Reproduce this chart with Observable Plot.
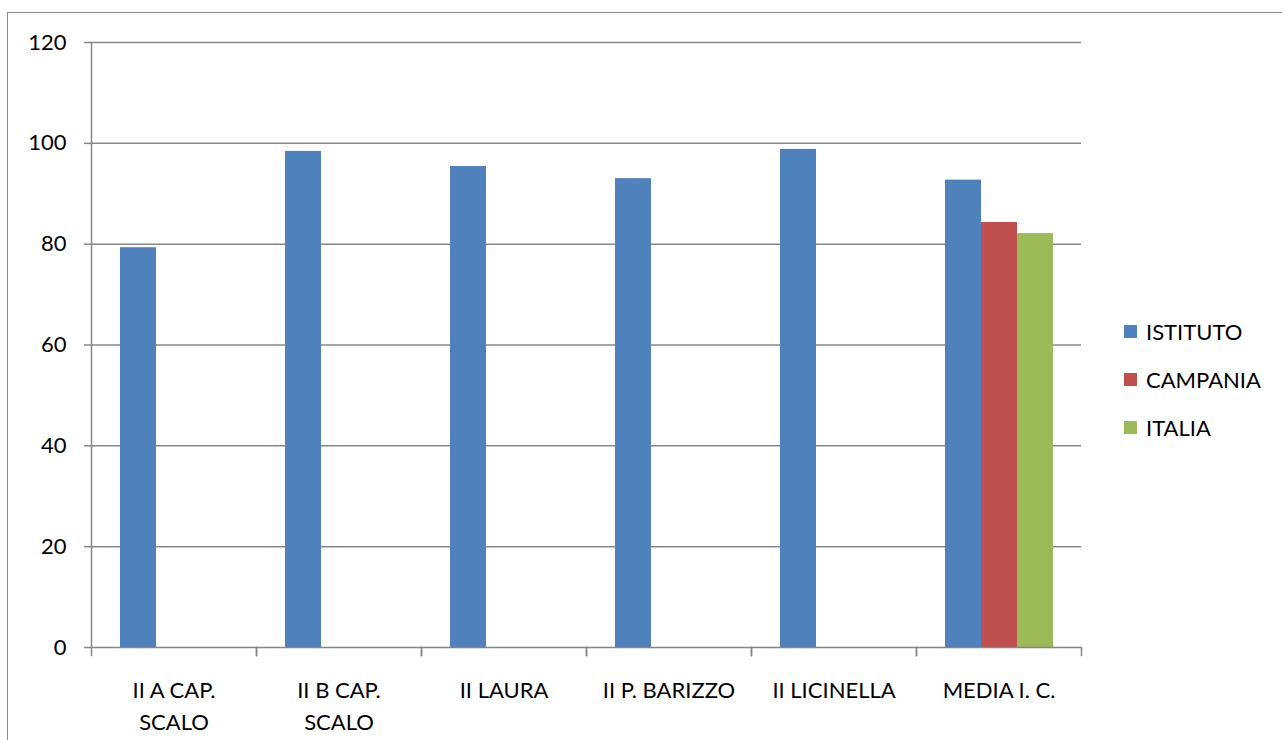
<!DOCTYPE html>
<html>
<head>
<meta charset="utf-8">
<script src="https://cdn.jsdelivr.net/npm/d3@7"></script>
<script src="https://cdn.jsdelivr.net/npm/@observablehq/plot@0.6"></script>
<style>
  html, body { margin: 0; padding: 0; background: #fff; }
  #wrap { position: relative; width: 1282px; height: 740px; overflow: hidden; font-family: Lato, "Open Sans", sans-serif; }
  #border { position: absolute; left: 7px; top: 12px; right: -10px; bottom: -10px; border-top: 1.5px solid #8a8a8a; border-left: 1.5px solid #8a8a8a; pointer-events: none; }
  #legend { position: absolute; left: 1124px; top: 307px; font-size: 22px; color: #000; }
  .item { display: flex; align-items: center; height: 48px; }
  .sw { width: 13px; height: 13px; margin-right: 9px; }
</style>
</head>
<body>
<div id="wrap">
  <div id="chart"></div>
  <div id="border"></div>
  <div id="legend"></div>
</div>
<script>
// ---- data ----
const categories = ["II A CAP.\nSCALO", "II B CAP.\nSCALO", "II LAURA", "II P. BARIZZO", "II LICINELLA", "MEDIA I. C."];
const seriesNames = ["ISTITUTO", "CAMPANIA", "ITALIA"];
const istituto = [79.3, 98.4, 95.4, 93.0, 98.8, 92.7];
const campania = [null, null, null, null, null, 84.3];
const italia   = [null, null, null, null, null, 82.1];
const seriesColors = ["#4F81BD", "#C0504D", "#9BBB59"];
const yTicks = [0, 20, 40, 60, 80, 100, 120];

// ---- build table ----
const seriesValues = [istituto, campania, italia];
const rows = [];
categories.forEach((c, i) => {
  seriesNames.forEach((s, j) => {
    const v = seriesValues[j][i];
    if (v != null) rows.push({category: c, series: s, value: v});
  });
});
const catRows = categories.map(c => ({category: c}));

const W = 1282, H = 740;
const mTop = 42, mBottom = 93, mLeft = 90, mRight = 200;
const frameH = H - mTop - mBottom;
const gray = "#878787";

const chart = Plot.plot({
  width: W,
  height: H,
  marginTop: mTop,
  marginBottom: mBottom,
  marginLeft: mLeft,
  marginRight: mRight,
  style: {fontFamily: "Lato, 'Open Sans', sans-serif", fontSize: "22px", color: "#000", background: "transparent"},
  fx: {domain: categories, padding: 0, axis: null},
  x: {domain: seriesNames, paddingInner: 0, paddingOuter: 0.75, axis: null},
  y: {domain: [0, 120], axis: null},
  color: {domain: seriesNames, range: seriesColors},
  marks: [
    Plot.ruleY(yTicks.filter(d => d > 0), {stroke: gray, strokeWidth: 1.5}),
    Plot.barY(rows, {fx: "category", x: "series", y: "value", fill: "series"}),
    Plot.ruleY([0], {stroke: gray, strokeWidth: 1.5}),
    Plot.frame({anchor: "left", insetTop: frameH, insetBottom: -8, stroke: gray, strokeWidth: 1.5}),
    Plot.frame({anchor: "right", insetTop: frameH, insetBottom: -8, stroke: gray, strokeWidth: 1.5}),
    Plot.frame({anchor: "left", facetAnchor: "left", stroke: gray, strokeWidth: 1.5}),
    Plot.axisY({ticks: yTicks, tickSize: 7, tickPadding: 18, stroke: gray, strokeWidth: 1.5, fill: "#000", label: null, fontSize: 22}),
    Plot.text(catRows, {fx: "category", text: "category", frameAnchor: "bottom", lineAnchor: "top", dy: 28, lineHeight: 1.45, fontSize: 22, fill: "#000"})
  ]
});
document.getElementById("chart").appendChild(chart);

// ---- legend ----
const legend = d3.select("#legend");
seriesNames.forEach((s, i) => {
  const it = legend.append("div").attr("class", "item");
  it.append("div").attr("class", "sw").style("background", seriesColors[i]);
  it.append("span").text(s);
});
</script>
</body>
</html>
